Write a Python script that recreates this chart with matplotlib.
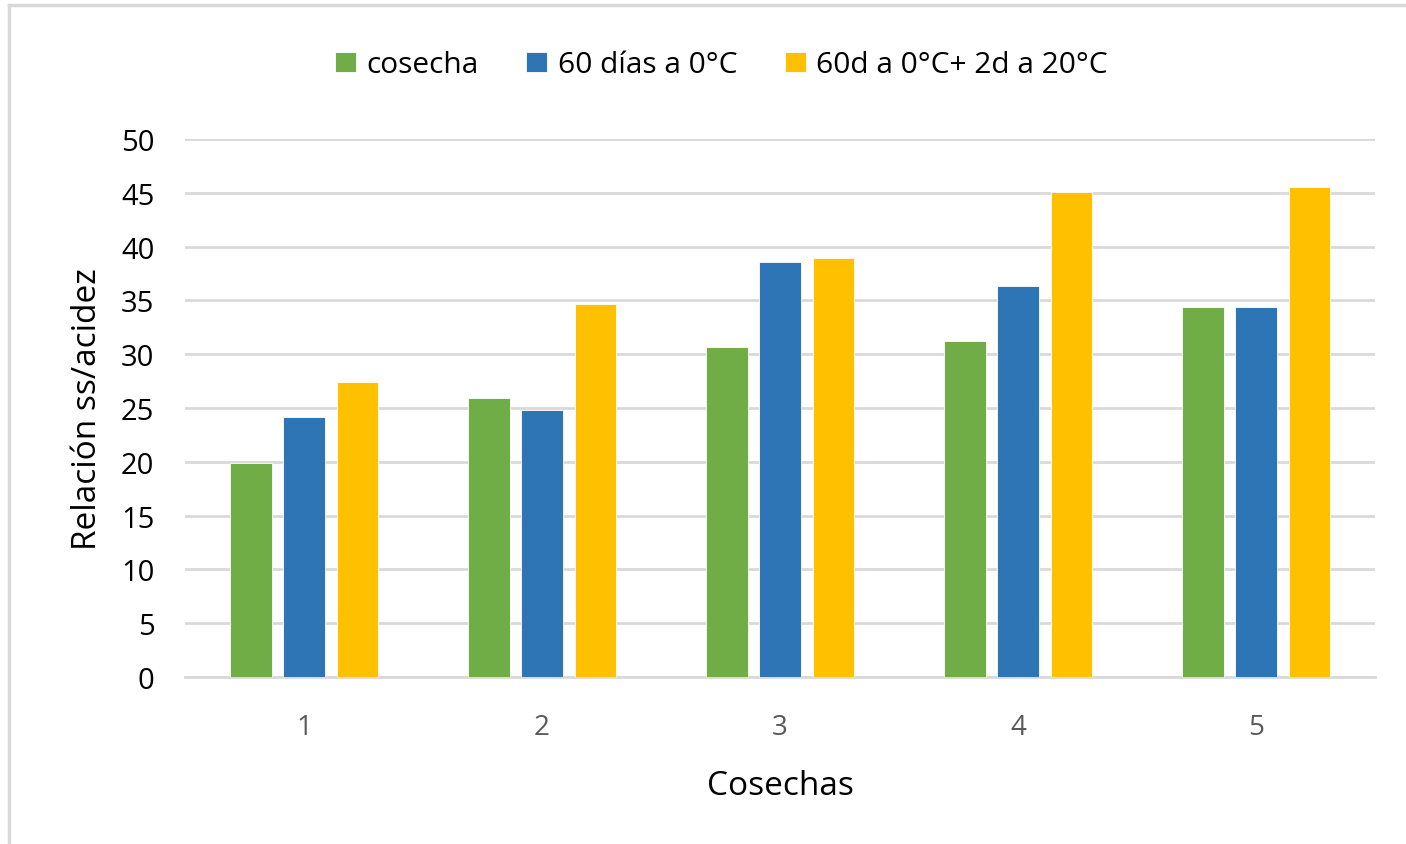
import matplotlib.pyplot as plt
import numpy as np
from matplotlib.lines import Line2D

# datos
cosechas = ["1", "2", "3", "4", "5"]
cosecha = [19.9, 25.96, 30.7, 31.19, 34.38]
dias60 = [24.13, 24.84, 38.62, 36.37, 34.44]
dias60_20 = [27.46, 34.63, 38.96, 45.06, 45.53]
series_names = ["cosecha", "60 días a 0°C", "60d a 0°C+ 2d a 20°C"]
colores = ["#70AD47", "#2E75B6", "#FFC000"]

plt.rcParams['font.family'] = ['Open Sans', 'DejaVu Sans']

fig = plt.figure(figsize=(14.06, 8.45), dpi=100)
ax = fig.add_axes([0.1316, 0.1976, 0.8464, 0.6366])

x = np.arange(len(cosechas))
ancho = 0.173
paso = 0.223
for i, (vals, nombre, col) in enumerate(zip([cosecha, dias60, dias60_20], series_names, colores)):
    ax.bar(x + (i - 1) * paso, vals, width=ancho, color=col, label=nombre,
           edgecolor="white", linewidth=0.6, zorder=3)

ax.set_ylim(0, 50)
ax.set_xlim(-0.5, 4.5)
ax.set_yticks(range(0, 51, 5))
ax.set_xticks(x)
ax.set_xticklabels(cosechas)
ax.yaxis.grid(True, color="#d9d9d9", linewidth=2, zorder=0)
ax.set_axisbelow(True)
for s in ["top", "right", "left"]:
    ax.spines[s].set_visible(False)
ax.spines["bottom"].set_color("#d9d9d9")
ax.spines["bottom"].set_linewidth(2)
ax.tick_params(axis="both", length=0)
ax.tick_params(axis="y", labelsize=21, pad=22, labelcolor="black")
ax.tick_params(axis="x", labelsize=20, pad=26, labelcolor="#595959")

ax.set_ylabel("Relación ss/acidez", fontsize=24, labelpad=12)
ax.set_xlabel("Cosechas", fontsize=24, labelpad=20)

fig.legend(loc="center", bbox_to_anchor=(0.513, 0.922), ncol=3, frameon=False,
           fontsize=21.5, handlelength=0.7, handleheight=0.7, columnspacing=1.6,
           handletextpad=0.35)

# borde del grafico
fig.add_artist(Line2D([9 / 1406, 9 / 1406], [0, 1 - 6 / 845], color="#d9d9d9", lw=2.5,
                      transform=fig.transFigure))
fig.add_artist(Line2D([9 / 1406, 1], [1 - 6 / 845, 1 - 6 / 845], color="#d9d9d9", lw=2.5,
                      transform=fig.transFigure))

fig.savefig("out.png", dpi=100)
